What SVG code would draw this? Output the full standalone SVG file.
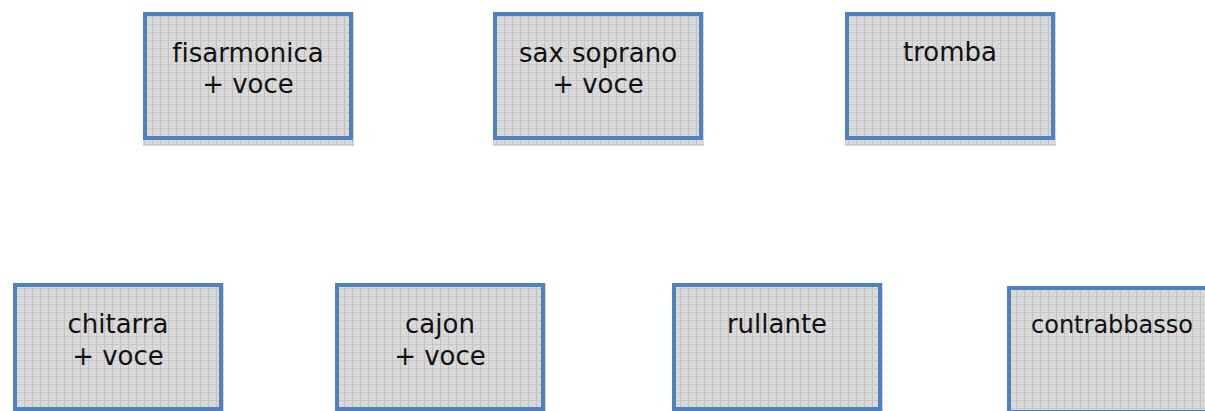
<svg xmlns="http://www.w3.org/2000/svg" width="1205" height="411" viewBox="0 0 1205 411">
<defs>
<pattern id="tex" width="8" height="8" patternUnits="userSpaceOnUse">
<rect width="8" height="8" fill="#dcdcdc"/>
<rect x="0" y="0" width="8" height="1" fill="#c8c8c8"/>
<rect x="0" y="0" width="1" height="8" fill="#c2c2c2"/>
<rect x="2" y="2" width="1" height="1" fill="#c6c6c6"/>
<rect x="5" y="4" width="1" height="1" fill="#c6c6c6"/>
<rect x="3" y="6" width="1" height="1" fill="#c6c6c6"/>
<rect x="7" y="3" width="1" height="1" fill="#c9c9c9"/>
<rect x="4" y="1" width="1" height="1" fill="#cecece"/>
<rect x="6" y="6" width="1" height="1" fill="#cecece"/>
<rect x="1" y="5" width="1" height="1" fill="#cecece"/>
</pattern>
</defs>
<style>
.bg{fill:url(#tex)}
.box{fill:none;stroke:#4f81bd;stroke-width:4}
.t{font-family:"DejaVu Sans","Verdana",sans-serif;font-size:26px;fill:#111;text-anchor:middle;font-variant-ligatures:none}
.s{font-size:24px}
</style>
<rect width="1205" height="411" fill="#ffffff"/>
<g id="connectors"></g>
<g id="fisarmonica">
<rect class="bg" x="143" y="12" width="211" height="134"/>
<rect class="box" x="145" y="14" width="206" height="124"/>
<text class="t" x="248" y="62">fisarmonica</text>
<text class="t" x="248" y="93">+ voce</text>
</g>
<g id="sax">
<rect class="bg" x="493" y="12" width="211" height="134"/>
<rect class="box" x="495" y="14" width="206" height="124"/>
<text class="t" x="598" y="62">sax soprano</text>
<text class="t" x="598" y="93">+ voce</text>
</g>
<g id="tromba">
<rect class="bg" x="845" y="12" width="211" height="134"/>
<rect class="box" x="847" y="14" width="206" height="124"/>
<text class="t" x="950" y="61">tromba</text>
</g>
<g id="chitarra">
<rect class="bg" x="13" y="283" width="211" height="128"/>
<rect class="box" x="15" y="285" width="206" height="124"/>
<text class="t" x="118" y="333">chitarra</text>
<text class="t" x="118" y="365">+ voce</text>
</g>
<g id="cajon">
<rect class="bg" x="335" y="283" width="211" height="128"/>
<rect class="box" x="337" y="285" width="206" height="124"/>
<text class="t" x="440" y="333">cajon</text>
<text class="t" x="440" y="365">+ voce</text>
</g>
<g id="rullante">
<rect class="bg" x="672" y="283" width="211" height="128"/>
<rect class="box" x="674" y="285" width="206" height="124"/>
<text class="t" x="777" y="333">rullante</text>
</g>
<g id="contrabbasso">
<rect class="bg" x="1007" y="286" width="211" height="128"/>
<rect class="box" x="1009" y="288" width="206" height="124"/>
<text class="t s" x="1112" y="333">contrabbasso</text>
</g>
</svg>
